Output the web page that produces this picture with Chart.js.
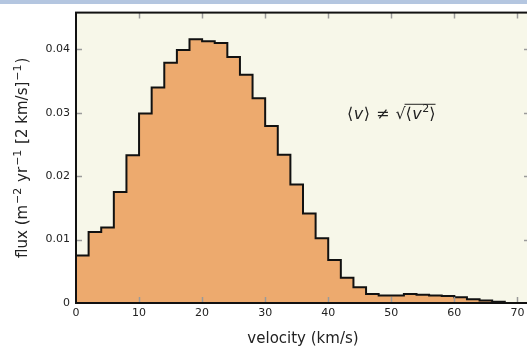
<!DOCTYPE html>
<html>
<head>
<meta charset="utf-8">
<script src="https://cdn.jsdelivr.net/npm/chart.js@4/dist/chart.umd.min.js"></script>
<style>
  html, body { margin: 0; padding: 0; overflow: hidden; background: #fff; }
  #band { position: absolute; left: 0; top: 0; width: 527px; height: 4px; background: #b4c6e0; }
  #wrap { position: absolute; left: 0; top: 0; width: 532px; height: 350px; }
</style>
</head>
<body>
<div id="wrap"><canvas id="chart"></canvas></div>
<div id="band"></div>
<script>
// left edge of each 2 km/s velocity bin
const binStart = [0, 2, 4, 6, 8, 10, 12, 14, 16, 18, 20, 22, 24, 26, 28, 30, 32,
                  34, 36, 38, 40, 42, 44, 46, 48, 50, 52, 54, 56, 58, 60, 62, 64, 66];
const binEnd = 68;

// flux per bin (m^-2 yr^-1 [2 km/s]^-1)
const flux = [0.0075, 0.0112, 0.0119, 0.0175, 0.0233, 0.0299, 0.0340, 0.0379, 0.0399,
              0.0416, 0.0413, 0.0410, 0.0388, 0.0360, 0.0323, 0.0279, 0.0234, 0.0187,
              0.0141, 0.0102, 0.0068, 0.0040, 0.0025, 0.0014, 0.0012, 0.0012, 0.0014,
              0.0013, 0.0012, 0.0011, 0.0009, 0.0006, 0.0004, 0.0002];

const xTicks = [0, 10, 20, 30, 40, 50, 60, 70];
const yTicks = [0, 0.01, 0.02, 0.03, 0.04];
const xMax = 72;
const yMax = 0.0458;

const annotX = 50;
const annotY = 0.030;

const points = binStart.map((x, i) => ({ x: x, y: flux[i] }));
points.push({ x: binEnd, y: 0 });

// draw a run of text pieces (normal / superscript), centred on x
function drawPieces(ctx, parts, cx, base) {
    let w = 0;
    parts.forEach(p => { ctx.font = p.f; p.w = ctx.measureText(p.t).width + (p.gap || 0); w += p.w; });
    let x = cx - w / 2;
    const over = [];
    parts.forEach(p => {
        ctx.font = p.f;
        ctx.fillText(p.t, x + (p.gap || 0) / 2, base - (p.rise || 0));
        if (p.o) over.push(x, x + p.w);
        x += p.w;
    });
    return over;
}

// background, inward tick marks, frame, y title and the annotation
const decor = {
    id: 'decor',
    beforeDatasetsDraw(chart) {
        const { ctx, chartArea: a } = chart;
        ctx.save();
        ctx.fillStyle = '#f7f7e9';
        ctx.fillRect(a.left, a.top, a.right - a.left, a.bottom - a.top);
        ctx.restore();
    },
    afterDatasetsDraw(chart) {
        const { ctx, chartArea: a } = chart;
        const xs = chart.scales.x, ys = chart.scales.y;
        const len = 6;
        ctx.save();
        ctx.strokeStyle = '#9a9a9a';
        ctx.lineWidth = 1.5;
        ctx.beginPath();
        xTicks.forEach(v => {
            if (v === 0) return;
            const px = Math.round(xs.getPixelForValue(v)) + 0.5;
            ctx.moveTo(px, a.bottom); ctx.lineTo(px, a.bottom - len);
            ctx.moveTo(px, a.top); ctx.lineTo(px, a.top + len);
        });
        yTicks.forEach(v => {
            if (v === 0) return;
            const py = Math.round(ys.getPixelForValue(v)) + 0.5;
            ctx.moveTo(a.left, py); ctx.lineTo(a.left + len, py);
            ctx.moveTo(a.right, py); ctx.lineTo(a.right - len, py);
        });
        ctx.stroke();

        ctx.strokeStyle = '#111';
        ctx.lineWidth = 2;
        ctx.strokeRect(a.left, a.top, a.right - a.left, a.bottom - a.top);

        ctx.fillStyle = '#222';
        ctx.textBaseline = 'alphabetic';
        ctx.textAlign = 'left';

        // y axis title with raised exponents
        const big = '15px "DejaVu Sans"';
        const sup = '11px "DejaVu Sans"';
        ctx.save();
        ctx.translate(27, (a.top + a.bottom) / 2);
        ctx.rotate(-Math.PI / 2);
        drawPieces(ctx, [
            { t: 'flux (m', f: big }, { t: '\u22122', f: sup, rise: 6, gap: 2 },
            { t: ' yr', f: big }, { t: '\u22121', f: sup, rise: 6, gap: 2 },
            { t: ' [2 km/s]', f: big }, { t: '\u22121', f: sup, rise: 6, gap: 2 },
            { t: ')', f: big }
        ], 0, 0);
        ctx.restore();

        // <v> != sqrt(<v^2>)
        const cx = xs.getPixelForValue(annotX);
        const base = ys.getPixelForValue(annotY) + 6;
        const up = '16px "DejaVu Sans"';
        const it = 'italic 16px "DejaVu Sans"';
        const sm = '11px "DejaVu Sans"';
        const over = drawPieces(ctx, [
            { t: '\u27E8', f: up }, { t: 'v', f: it, gap: 1 }, { t: '\u27E9', f: up },
            { t: '\u2260', f: up, gap: 12 },
            { t: '\u221A', f: up },
            { t: '\u27E8', f: up, o: true }, { t: 'v', f: it, o: true, gap: 1 },
            { t: '2', f: sm, o: true, rise: 7 }, { t: '\u27E9', f: up, o: true }
        ], cx, base);
        ctx.strokeStyle = '#222';
        ctx.lineWidth = 1;
        ctx.beginPath();
        ctx.moveTo(over[0] - 1, base - 14.5);
        ctx.lineTo(over[over.length - 1], base - 14.5);
        ctx.stroke();
        ctx.restore();
    }
};

const chart = new Chart(
    document.getElementById('chart'),
    {
        type: 'line',
        data: {
            datasets: [
                {
                    label: 'flux',
                    data: points,
                    stepped: 'before',
                    fill: 'origin',
                    backgroundColor: '#edaa6e',
                    borderColor: '#111',
                    borderWidth: 2,
                    pointRadius: 0,
                    tension: 0,
                },
            ]
        },
        options: {
            animation: false,
            responsive: true,
            maintainAspectRatio: false,
            devicePixelRatio: 1,
            layout: {
                padding: { top: 12, right: 2, left: 0, bottom: 0 },
            },
            scales: {
                x: {
                    type: 'linear',
                    min: 0,
                    max: xMax,
                    afterBuildTicks: (scale) => { scale.ticks = xTicks.map(v => ({ value: v })); },
                    afterFit: (scale) => { scale.height = 47; },
                    grid: { display: false, drawTicks: false },
                    border: { display: false },
                    ticks: {
                        padding: 4,
                        color: '#222',
                        font: { family: 'DejaVu Sans', size: 11 },
                        maxRotation: 0,
                    },
                    title: {
                        display: true,
                        text: 'velocity (km/s)',
                        color: '#222',
                        font: { family: 'DejaVu Sans', size: 15 },
                        padding: { top: 0, bottom: 2 },
                    },
                },
                y: {
                    type: 'linear',
                    min: 0,
                    max: yMax,
                    afterBuildTicks: (scale) => { scale.ticks = yTicks.map(v => ({ value: v })); },
                    afterFit: (scale) => { scale.width = 76; },
                    grid: { display: false, drawTicks: false },
                    border: { display: false },
                    ticks: {
                        padding: 6,
                        color: '#222',
                        font: { family: 'DejaVu Sans', size: 11 },
                        callback: (v) => (v === 0 ? '0' : v.toFixed(2)),
                    },
                    title: { display: false },
                }
            },
            plugins: {
                legend: { display: false },
                tooltip: { enabled: false },
            }
        },
        plugins: [decor],
    }
);
</script>
</body>
</html>
